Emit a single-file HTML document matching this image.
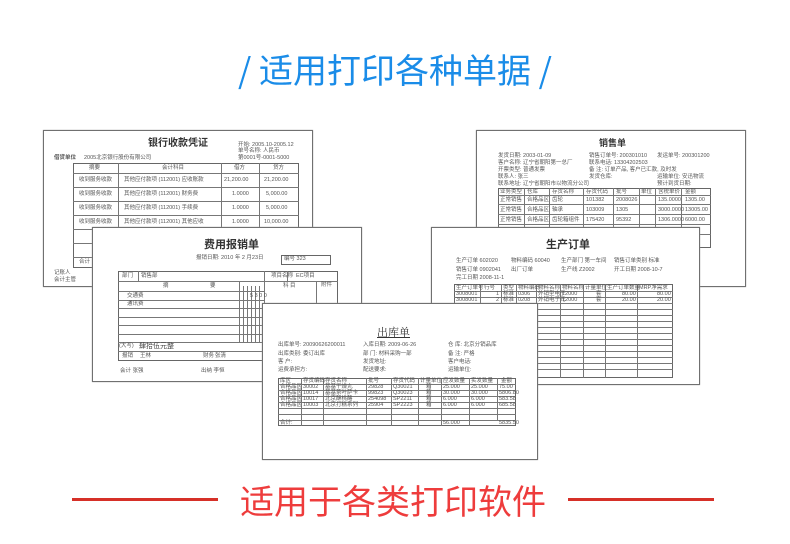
<!DOCTYPE html>
<html><head><meta charset="utf-8"><style>
*{margin:0;padding:0;box-sizing:border-box}
body{width:790px;height:544px;background:#fff;position:relative;overflow:hidden;font-family:"Liberation Sans","Noto Sans CJK SC",sans-serif}
.doc{position:absolute;background:#fff;border:1px solid #707070;box-shadow:0 0 1px #999;overflow:hidden}
.doc span,.doc i{position:absolute;white-space:nowrap;color:#555;font-style:normal;font-size:5.5px;line-height:1}
.doc b{position:absolute;white-space:nowrap;color:#333;font-weight:bold;line-height:1}
.t{position:absolute;border:1px solid #666}
.h{position:absolute;height:0;border-top:1px solid #777}
.v{position:absolute;width:0;border-left:1px solid #777}
</style></head><body>

<div style="position:absolute;left:0;top:46px;width:790px;text-align:center;color:#1a8ce8;font-size:34px;line-height:46px;font-family:'Noto Sans CJK SC',sans-serif;font-weight:400">/ 适用打印各种单据 /</div>

<!-- bank -->
<div class="doc" style="left:43px;top:130px;width:270px;height:157px">
<b style="left:104px;top:8px;font-size:10px">银行收款凭证</b>
<span style="left:194px;top:12px">开始: 2005.10-2005.12</span>
<span style="left:194px;top:18px">单号名称: 人民币</span>
<span style="left:194px;top:25px">第0001号-0001-5000</span>
<span style="left:10px;top:25px;font-weight:bold">借贷单位</span><span style="left:40px;top:25px">2005北京银行股份有限公司</span>
<div class="t" style="left:29px;top:32px;width:226px;height:105px"></div>
<div class="h" style="left:29px;top:42px;width:226px"></div>
<div class="h" style="left:29px;top:56px;width:226px"></div>
<div class="h" style="left:29px;top:70px;width:226px"></div>
<div class="h" style="left:29px;top:84px;width:226px"></div>
<div class="h" style="left:29px;top:98px;width:226px"></div>
<div class="h" style="left:29px;top:112px;width:226px"></div>
<div class="h" style="left:29px;top:126px;width:226px"></div>
<div class="v" style="left:74px;top:32px;height:94px"></div>
<div class="v" style="left:177px;top:32px;height:94px"></div>
<div class="v" style="left:215px;top:32px;height:94px"></div>
<span style="left:45px;top:35px">摘要</span><span style="left:118px;top:35px">会计科目</span><span style="left:190px;top:35px">借方</span><span style="left:229px;top:35px">贷方</span>
<span style="left:35px;top:47px">收到服务收款</span><span style="left:80px;top:47px">其他应付款项 (112001) 应收账款</span><span style="left:180px;top:47px">21,200.00</span><span style="left:220px;top:47px">21,200.00</span>
<span style="left:35px;top:61px">收到服务收款</span><span style="left:80px;top:61px">其他应付款项 (112001) 财务费</span><span style="left:188px;top:61px">1.0000</span><span style="left:222px;top:61px">5,000.00</span>
<span style="left:35px;top:75px">收到服务收款</span><span style="left:80px;top:75px">其他应付款项 (112001) 手续费</span><span style="left:188px;top:75px">1.0000</span><span style="left:222px;top:75px">5,000.00</span>
<span style="left:35px;top:89px">收到服务收款</span><span style="left:80px;top:89px">其他应付款项 (112001) 其他应收</span><span style="left:188px;top:89px">1.0000</span><span style="left:220px;top:89px">10,000.00</span>
<span style="left:35px;top:129px">合计</span><span style="left:10px;top:140px">记账人</span><span style="left:10px;top:147px">会计主管</span>
</div>

<!-- sales -->
<div class="doc" style="left:476px;top:130px;width:270px;height:157px">
<b style="left:122px;top:8px;font-size:9px">销售单</b>
<span style="left:21px;top:23px">发货日期: 2003-01-09</span><span style="left:112px;top:23px">销售订单号: 200301010</span><span style="left:180px;top:23px">发运单号: 200301200</span>
<span style="left:21px;top:30px">客户名称: 辽宁省朝阳第一总厂</span><span style="left:112px;top:30px">联系电话: 13304202503</span>
<span style="left:21px;top:37px">开票类型: 普通发票</span><span style="left:112px;top:37px">备 注: 订单产品, 客户已汇款, 及时发</span>
<span style="left:21px;top:44px">联系人: 张三</span><span style="left:112px;top:44px">发货仓库:</span><span style="left:180px;top:44px">运输单位: 安迅物流</span>
<span style="left:21px;top:51px">联系地址: 辽宁省朝阳市以物流分公司</span><span style="left:180px;top:51px">预计到货日期:</span>
<div class="t" style="left:21px;top:57px;width:213px;height:60px"></div>
<div class="h" style="left:21px;top:64px;width:213px"></div>
<div class="h" style="left:21px;top:73px;width:213px"></div>
<div class="h" style="left:21px;top:83px;width:213px"></div>
<div class="h" style="left:21px;top:93px;width:213px"></div>
<div class="h" style="left:21px;top:103px;width:213px"></div>
<div class="v" style="left:47px;top:57px;height:60px"></div><div class="v" style="left:72px;top:57px;height:60px"></div><div class="v" style="left:106px;top:57px;height:60px"></div><div class="v" style="left:136px;top:57px;height:60px"></div><div class="v" style="left:162px;top:57px;height:60px"></div><div class="v" style="left:178px;top:57px;height:60px"></div><div class="v" style="left:204px;top:57px;height:60px"></div>
<span style="left:23px;top:59px">业务类型</span><span style="left:50px;top:59px">仓库</span><span style="left:75px;top:59px">存货名称</span><span style="left:109px;top:59px">存货代码</span><span style="left:139px;top:59px">批号</span><span style="left:164px;top:59px">单位</span><span style="left:181px;top:59px">含税单价</span><span style="left:208px;top:59px">金额</span>
<span style="left:23px;top:67px">正常销售</span><span style="left:50px;top:67px">合格品区</span><span style="left:75px;top:67px">齿轮</span><span style="left:109px;top:67px">101382</span><span style="left:139px;top:67px">2008026</span><span style="left:181px;top:67px">135.0000</span><span style="left:208px;top:67px">1305.00</span>
<span style="left:23px;top:77px">正常销售</span><span style="left:50px;top:77px">合格品区</span><span style="left:75px;top:77px">轴承</span><span style="left:109px;top:77px">103009</span><span style="left:139px;top:77px">1305</span><span style="left:181px;top:77px">3000.0000</span><span style="left:208px;top:77px">13005.00</span>
<span style="left:23px;top:87px">正常销售</span><span style="left:50px;top:87px">合格品区</span><span style="left:75px;top:87px">齿轮箱组件</span><span style="left:109px;top:87px">175420</span><span style="left:139px;top:87px">95392</span><span style="left:181px;top:87px">1306.0000</span><span style="left:208px;top:87px">6000.00</span>
</div>

<!-- expense -->
<div class="doc" style="left:92px;top:227px;width:270px;height:155px">
<b style="left:111px;top:12px;font-size:11px">费用报销单</b>
<span style="left:103px;top:28px">报销日期: 2010 年 2 月23日</span>
<div class="t" style="left:188px;top:27px;width:50px;height:10px"></div><span style="left:191px;top:29px">编号 323</span>
<div class="t" style="left:25px;top:43px;width:220px;height:90px"></div>
<div class="h" style="left:25px;top:53px;width:220px"></div>
<div class="h" style="left:25px;top:63px;width:146px"></div>
<div class="h" style="left:25px;top:72px;width:146px"></div>
<div class="h" style="left:25px;top:80px;width:146px"></div>
<div class="h" style="left:25px;top:89px;width:146px"></div>
<div class="h" style="left:25px;top:97px;width:146px"></div>
<div class="h" style="left:25px;top:106px;width:146px"></div>
<div class="h" style="left:25px;top:114px;width:220px"></div>
<div class="h" style="left:25px;top:123px;width:220px"></div>
<div class="v" style="left:45px;top:43px;height:10px"></div>
<div class="v" style="left:146px;top:53px;height:61px"></div><div class="v" style="left:150px;top:58px;height:56px"></div><div class="v" style="left:154px;top:58px;height:56px"></div><div class="v" style="left:158px;top:58px;height:56px"></div><div class="v" style="left:162px;top:58px;height:56px"></div><div class="v" style="left:166px;top:58px;height:56px"></div><div class="v" style="left:171px;top:43px;height:71px"></div>
<div class="v" style="left:194px;top:43px;height:10px"></div><div class="v" style="left:223px;top:53px;height:61px"></div>
<span style="left:29px;top:46px">部门</span><span style="left:48px;top:46px">销售部</span><span style="left:178px;top:46px">项目名称</span><span style="left:203px;top:46px">EC项目</span>
<span style="left:70px;top:56px">摘</span><span style="left:117px;top:56px">要</span><span style="left:190px;top:56px">科 目</span><span style="left:228px;top:55px">附件</span>
<span style="left:34px;top:66px">交通费</span><span style="left:34px;top:74px">通讯费</span><span style="left:157px;top:66px">5 3 0 0</span>
<span style="left:26px;top:116px">(大写)</span><b style="left:46px;top:115px;font-size:7px;font-weight:normal;color:#444">肆拾伍元整</b>
<span style="left:29px;top:126px">报销</span><span style="left:47px;top:126px">王林</span><span style="left:110px;top:126px">财务</span><span style="left:122px;top:126px">张清</span>
<span style="left:27px;top:141px">会计 张强</span><span style="left:108px;top:141px">出纳 李恒</span>
</div>

<!-- production -->
<div class="doc" style="left:431px;top:227px;width:269px;height:158px">
<b style="left:114px;top:12px;font-size:11px">生产订单</b>
<span style="left:24px;top:31px">生产订单 602020</span><span style="left:79px;top:31px">物料编码 60040</span><span style="left:129px;top:31px">生产部门 第一车间</span><span style="left:182px;top:31px">销售订单类别 标准</span>
<span style="left:24px;top:40px">销售订单 0902041</span><span style="left:79px;top:40px">出厂订单</span><span style="left:129px;top:40px">生产线 Z2002</span><span style="left:182px;top:40px">开工日期 2008-10-7</span>
<span style="left:24px;top:48px">完工日期 2008-11-1</span>
<div class="t" style="left:22px;top:56px;width:219px;height:94px"></div>
<div class="h" style="left:22px;top:63px;width:219px"></div><div class="h" style="left:22px;top:69px;width:219px"></div><div class="h" style="left:22px;top:75px;width:219px"></div><div class="h" style="left:22px;top:81px;width:219px"></div><div class="h" style="left:22px;top:87px;width:219px"></div><div class="h" style="left:22px;top:93px;width:219px"></div><div class="h" style="left:22px;top:99px;width:219px"></div><div class="h" style="left:22px;top:105px;width:219px"></div><div class="h" style="left:22px;top:111px;width:219px"></div><div class="h" style="left:22px;top:117px;width:219px"></div><div class="h" style="left:22px;top:123px;width:219px"></div><div class="h" style="left:22px;top:129px;width:219px"></div><div class="h" style="left:22px;top:135px;width:219px"></div><div class="h" style="left:22px;top:141px;width:219px"></div>
<div class="v" style="left:48px;top:56px;height:94px"></div><div class="v" style="left:69px;top:56px;height:94px"></div><div class="v" style="left:84px;top:56px;height:94px"></div><div class="v" style="left:104px;top:56px;height:94px"></div><div class="v" style="left:128px;top:56px;height:94px"></div><div class="v" style="left:151px;top:56px;height:94px"></div><div class="v" style="left:173px;top:56px;height:94px"></div><div class="v" style="left:205px;top:56px;height:94px"></div>
<span style="left:24px;top:58px">生产订单号</span><span style="left:52px;top:58px">行号</span><span style="left:71px;top:58px">类型</span><span style="left:86px;top:58px">物料编码</span><span style="left:106px;top:58px">物料名称</span><span style="left:130px;top:58px">物料名称</span><span style="left:153px;top:58px">计量单位</span><span style="left:175px;top:58px">生产订单数量</span><span style="left:207px;top:58px">MRP净需求</span>
<span style="left:24px;top:64px">3008001</span><span style="left:64px;top:64px">1</span><span style="left:71px;top:64px">标准</span><span style="left:86px;top:64px">0306</span><span style="left:106px;top:64px">外销型电子</span><span style="left:130px;top:64px">12000</span><span style="left:164px;top:64px">套</span><span style="left:190px;top:64px">80.00</span><span style="left:225px;top:64px">80.00</span>
<span style="left:24px;top:70px">3008001</span><span style="left:64px;top:70px">2</span><span style="left:71px;top:70px">标准</span><span style="left:86px;top:70px">0208</span><span style="left:106px;top:70px">外销电子元</span><span style="left:130px;top:70px">12000</span><span style="left:164px;top:70px">套</span><span style="left:190px;top:70px">20.00</span><span style="left:225px;top:70px">20.00</span>
</div>

<!-- outbound -->
<div class="doc" style="left:262px;top:303px;width:276px;height:157px">
<b style="left:114px;top:23px;font-size:11px;text-decoration:underline;font-weight:normal;font-family:'Noto Serif CJK SC',serif">出库单</b>
<span style="left:15px;top:39px">出库单号: 20090626200011</span><span style="left:100px;top:39px">入库日期: 2009-06-26</span><span style="left:185px;top:39px">仓 库: 北京分销品库</span>
<span style="left:15px;top:48px">出库类别: 委订出库</span><span style="left:100px;top:48px">部 门: 材料采购一部</span><span style="left:185px;top:48px">备 注: 严格</span>
<span style="left:15px;top:56px">客 户:</span><span style="left:100px;top:56px">发货地址:</span><span style="left:185px;top:56px">客户电话:</span>
<span style="left:15px;top:64px">运费承担方:</span><span style="left:100px;top:64px">配送要求:</span><span style="left:185px;top:64px">运输单位:</span>
<div class="t" style="left:15px;top:74px;width:238px;height:48px"></div>
<div class="h" style="left:15px;top:80px;width:238px"></div><div class="h" style="left:15px;top:86px;width:238px"></div><div class="h" style="left:15px;top:92px;width:238px"></div><div class="h" style="left:15px;top:98px;width:238px"></div><div class="h" style="left:15px;top:104px;width:238px"></div><div class="h" style="left:15px;top:110px;width:238px"></div><div class="h" style="left:15px;top:116px;width:238px"></div>
<div class="v" style="left:38px;top:74px;height:48px"></div><div class="v" style="left:60px;top:74px;height:48px"></div><div class="v" style="left:103px;top:74px;height:48px"></div><div class="v" style="left:128px;top:74px;height:48px"></div><div class="v" style="left:155px;top:74px;height:48px"></div><div class="v" style="left:178px;top:74px;height:48px"></div><div class="v" style="left:206px;top:74px;height:48px"></div><div class="v" style="left:234px;top:74px;height:42px"></div>
<span style="left:17px;top:75px">库区</span><span style="left:40px;top:75px">存货编码</span><span style="left:62px;top:75px">存货名称</span><span style="left:105px;top:75px">批号</span><span style="left:130px;top:75px">存货代码</span><span style="left:157px;top:75px">计量单位</span><span style="left:180px;top:75px">应发数量</span><span style="left:208px;top:75px">实发数量</span><span style="left:238px;top:75px">金额</span>
<span style="left:17px;top:81px">合格品区</span><span style="left:40px;top:81px">30002</span><span style="left:62px;top:81px">基基干燥丸</span><span style="left:105px;top:81px">29828</span><span style="left:130px;top:81px">Q30021</span><span style="left:163px;top:81px">箱</span><span style="left:180px;top:81px">25.000</span><span style="left:208px;top:81px">25.000</span><span style="left:236px;top:81px">75.00</span>
<span style="left:17px;top:87px">合格品区</span><span style="left:40px;top:87px">10014</span><span style="left:62px;top:87px">基基茶叶萨卡</span><span style="left:105px;top:87px">99823</span><span style="left:130px;top:87px">Q30023</span><span style="left:163px;top:87px">箱</span><span style="left:180px;top:87px">30.000</span><span style="left:208px;top:87px">30.000</span><span style="left:236px;top:87px">5806.80</span>
<span style="left:17px;top:93px">合格品区</span><span style="left:40px;top:93px">10017</span><span style="left:62px;top:93px">北京酥桃酪</span><span style="left:105px;top:93px">254098</span><span style="left:130px;top:93px">SP2211</span><span style="left:163px;top:93px">箱</span><span style="left:180px;top:93px">6.000</span><span style="left:208px;top:93px">6.000</span><span style="left:236px;top:93px">583.58</span>
<span style="left:17px;top:99px">合格品区</span><span style="left:40px;top:99px">10003</span><span style="left:62px;top:99px">北京打糕系列</span><span style="left:105px;top:99px">25904</span><span style="left:130px;top:99px">SP2223</span><span style="left:163px;top:99px">箱</span><span style="left:180px;top:99px">6.000</span><span style="left:208px;top:99px">6.000</span><span style="left:236px;top:99px">685.58</span>
<span style="left:17px;top:117px">合计:</span><span style="left:180px;top:117px">56.000</span><span style="left:236px;top:117px">5835.50</span>
</div>

<div style="position:absolute;left:72px;top:498px;width:146px;height:3px;background:#d63028"></div>
<div style="position:absolute;left:568px;top:498px;width:146px;height:3px;background:#d63028"></div>
<div style="position:absolute;left:218px;top:478px;width:350px;text-align:center;color:#ee3c3c;font-size:34px;line-height:44px;font-family:'Noto Sans CJK SC',sans-serif;font-weight:400">适用于各类打印软件</div>
</body></html>
